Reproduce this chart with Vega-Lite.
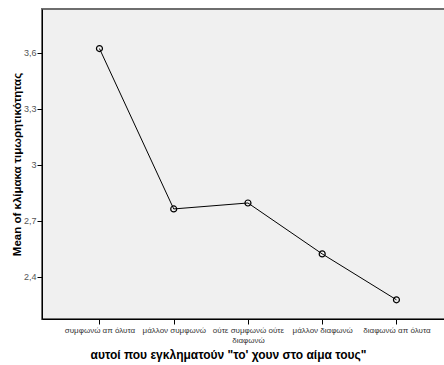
{
  "$schema": "https://vega.github.io/schema/vega-lite/v6.json",
  "autosize": {"type": "none"},
  "padding": {"left": 42, "top": 9, "right": 0, "bottom": 47},
  "width": 403,
  "height": 310,
  "background": "white",
  "config": {
    "font": "Liberation Sans",
    "view": {"fill": "#f0f0f0", "stroke": "#6e6e6e", "strokeWidth": 2}
  },
  "data": {
    "values": [
      {"category": "συμφωνώ απ όλυτα", "mean": 3.623},
      {"category": "μάλλον συμφωνώ", "mean": 2.763},
      {"category": "ούτε συμφωνώ ούτε διαφωνώ", "mean": 2.795},
      {"category": "μάλλον διαφωνώ", "mean": 2.522},
      {"category": "διαφωνώ απ όλυτα", "mean": 2.276}
    ]
  },
  "encoding": {
    "x": {
      "field": "category",
      "type": "nominal",
      "sort": null,
      "scale": {"type": "point", "padding": 0.714, "align": 0.542},
      "axis": {
        "title": "αυτοί που εγκληματούν \"το' χουν στο αίμα τους\"",
        "titleFontSize": 12,
        "titleFontWeight": "bold",
        "titleColor": "black",
        "titleX": 186,
        "titlePadding": 5,
        "labelAngle": 0,
        "labelFontSize": 8,
        "labelColor": "#333",
        "labelPadding": 2,
        "labelLimit": 200,
        "labelExpr": "datum.value == 'ούτε συμφωνώ ούτε διαφωνώ' ? ['ούτε συμφωνώ ούτε', 'διαφωνώ'] : datum.label",
        "tickColor": "black",
        "tickSize": 5,
        "domainColor": "black",
        "grid": false
      }
    },
    "y": {
      "field": "mean",
      "type": "quantitative",
      "scale": {"domain": [2.173, 3.835], "nice": false, "zero": false},
      "axis": {
        "title": "Mean of κλίμακα τιμωρητικότητας",
        "titleFontSize": 11.5,
        "titleFontWeight": "bold",
        "titleColor": "black",
        "titlePadding": 1,
        "values": [2.4, 2.7, 3, 3.3, 3.6],
        "format": ".1~f",
        "labelExpr": "replace(datum.label, '.', ',')",
        "labelFontSize": 9,
        "labelColor": "#555",
        "labelPadding": 1,
        "tickColor": "black",
        "tickSize": 5,
        "domainColor": "black",
        "grid": false
      }
    }
  },
  "layer": [
    {"mark": {"type": "line", "color": "black", "strokeWidth": 1}},
    {"mark": {"type": "point", "shape": "circle", "filled": false, "color": "black", "size": 36, "strokeWidth": 1.2, "opacity": 1}}
  ]
}
